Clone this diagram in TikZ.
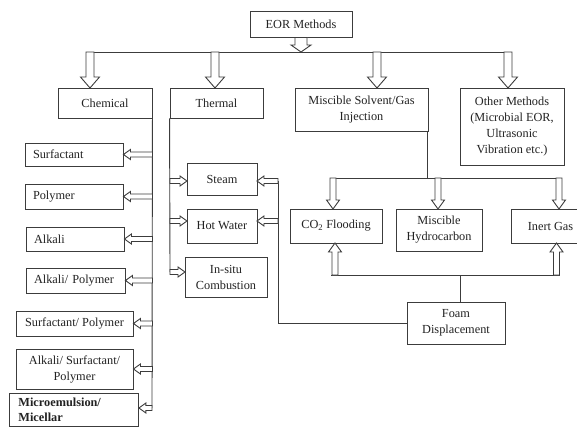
\documentclass[tikz,border=0pt]{standalone}
\usepackage{fontspec}
\setmainfont{Liberation Serif}
\usetikzlibrary{calc}
\definecolor{lc}{HTML}{3C3C3C}
\definecolor{tc}{HTML}{222222}
\tikzset{
  box/.style={draw=lc, line width=0.9pt, fill=white, inner sep=2pt, align=center,
    font=\fontsize{12.3}{16}\selectfont, text=tc},
  leftbox/.style={box, align=left, inner xsep=8pt},
  conn/.style={draw=lc, line width=0.9pt},
  hollowpath/.style={conn, fill=white, line join=miter, to path={
    ($(\tikztotarget)!\hlen!(\tikztostart)$) coordinate (hbase)
    ($(\tikztostart)!\hsw!90:(\tikztotarget)$) -- ($(hbase)!\hsw!90:(\tikztotarget)$)
    -- ($(hbase)!\hhw!90:(\tikztotarget)$) -- (\tikztotarget)
    -- ($(hbase)!\hhw!-90:(\tikztotarget)$) -- ($(hbase)!\hsw!-90:(\tikztotarget)$)
    -- ($(\tikztostart)!\hsw!-90:(\tikztotarget)$) -- cycle}},
  bigarrow/.style={/utils/exec={\def\hsw{4pt}\def\hhw{9.5pt}\def\hlen{11pt}}, hollowpath},
  midarrow/.style={/utils/exec={\def\hsw{3pt}\def\hhw{6.5pt}\def\hlen{9pt}}, hollowpath},
  smallarrow/.style={/utils/exec={\def\hsw{2.5pt}\def\hhw{5pt}\def\hlen{7pt}}, hollowpath},
  toparrow/.style={/utils/exec={\def\hsw{6pt}\def\hhw{10pt}\def\hlen{7pt}}, hollowpath},
}
\begin{document}
\begin{tikzpicture}[x=1pt, y=-1pt]
\clip (0,0) rectangle (577,426);
\fill[white] (0,0) rectangle (577,426);

% main boxes
\node[box, minimum width=102pt, minimum height=26pt] (eor) at (301,24) {EOR Methods};
\node[box, minimum width=94pt, minimum height=30pt] (chem) at (105,103) {Chemical};
\node[box, minimum width=93pt, minimum height=30pt] (therm) at (216.5,103) {Thermal};
\node[box, minimum width=133pt, minimum height=43pt] (misc) at (361.5,109.5) {Miscible Solvent/Gas\\Injection};
\node[box, minimum width=104pt, minimum height=77pt] (other) at (512,126.5) {Other Methods\\(Microbial EOR,\\Ultrasonic\\Vibration etc.)};

% chemical sub-boxes
\node[leftbox, text width=82pt, minimum height=23pt] (surf) at (74,154.5) {Surfactant};
\node[leftbox, text width=82pt, minimum height=25pt] (poly) at (74,196.5) {Polymer};
\node[leftbox, text width=82pt, minimum height=24pt] (alk) at (75,239) {Alkali};
\node[leftbox, text width=83pt, minimum height=25pt] (alkpoly) at (75.5,280.5) {Alkali/ Polymer};
\node[box, minimum width=117pt, minimum height=25pt] (surfpoly) at (74.5,323.5) {Surfactant/ Polymer};
\node[box, minimum width=117pt, minimum height=40pt] (asp) at (74.5,369) {Alkali/ Surfactant/\\Polymer};
\node[leftbox, text width=111pt, inner xsep=9pt, inner ysep=4.5pt, anchor=north west,
  font={\fontsize{12.3}{15}\selectfont\bfseries}] (micro) at (9,393) {Microemulsion/\\Micellar};

% thermal sub-boxes
\node[box, minimum width=70pt, minimum height=32pt] (steam) at (222,179) {Steam};
\node[box, minimum width=70pt, minimum height=34pt] (hw) at (222,226) {Hot Water};
\node[box, minimum width=82pt, minimum height=40pt] (insitu) at (226,277) {In-situ\\Combustion};

% miscible sub-boxes
\node[box, minimum width=92pt, minimum height=34pt] (co2) at (336,226) {CO\textsubscript{2} Flooding};
\node[box, minimum width=86pt, minimum height=42pt] (mh) at (439,230) {Miscible\\Hydrocarbon};
\node[box, minimum width=79pt, minimum height=34pt] (inert) at (550.5,226) {Inert Gas};
\node[box, minimum width=98pt, minimum height=42pt] (foam) at (456,323) {Foam\\Displacement};

% top distribution
\coordinate (tbL) at (86,52);
\coordinate (tbR) at (512,52);
\draw[conn] (tbL) -- (tbR);
\coordinate (a0t) at (301,52);
\draw[toparrow] (eor.south) to (a0t);
\coordinate (a1s) at (90,52);   \coordinate (a1t) at (90,88);
\coordinate (a2s) at (215,52);  \coordinate (a2t) at (215,88);
\coordinate (a3s) at (377,52);  \coordinate (a3t) at (377,88);
\coordinate (a4s) at (508,52);  \coordinate (a4t) at (508,88);
\draw[bigarrow] (a1s) to (a1t);
\draw[bigarrow] (a2s) to (a2t);
\draw[bigarrow] (a3s) to (a3t);
\draw[bigarrow] (a4s) to (a4t);

% chemical branch
\coordinate (chemend) at (152,408);
\draw[conn] (chem.south east) -- (chemend);
\foreach \b in {surf,poly,alk,alkpoly,surfpoly,asp}{
  \coordinate (s-\b) at (chem.south east |- \b.east);
  \draw[smallarrow] (s-\b) to (\b.east);
}
\coordinate (microt) at (micro.east |- chemend);
\draw[smallarrow] (chemend) to (microt);

% thermal branch
\coordinate (thend) at (170,272);
\draw[conn] (therm.south west) -- (thend);
\coordinate (th1s) at (170,181); \coordinate (th1t) at (187,181);
\coordinate (th2s) at (170,221); \coordinate (th2t) at (187,221);
\coordinate (th3t) at (185,272);
\draw[smallarrow] (th1s) to (th1t);
\draw[smallarrow] (th2s) to (th2t);
\draw[smallarrow] (thend) to (th3t);

% foam to steam / hot water
\coordinate (fr1) at (278,181);
\coordinate (fr2) at (278,221);
\coordinate (fcorner) at (278,323);
\coordinate (st1) at (257,181);
\coordinate (st2) at (257,221);
\draw[conn] (fr1) -- (fcorner) -- (foam.west);
\draw[smallarrow] (fr1) to (st1);
\draw[smallarrow] (fr2) to (st2);

% miscible branch
\coordinate (ms) at (427,131);
\coordinate (mb) at (427,178);
\draw[conn] (ms) -- (mb);
\coordinate (mbL) at (331,178);
\coordinate (mbR) at (562,178);
\draw[conn] (mbL) -- (mbR);
\coordinate (m1s) at (333,178); \coordinate (m1t) at (333,209);
\coordinate (m2s) at (438,178); \coordinate (m2t) at (438,209);
\coordinate (m3s) at (559,178); \coordinate (m3t) at (559,209);
\draw[midarrow] (m1s) to (m1t);
\draw[midarrow] (m2s) to (m2t);
\draw[midarrow] (m3s) to (m3t);

% foam up
\coordinate (ft) at (460,302);
\coordinate (fb) at (460,275);
\draw[conn] (ft) -- (fb);
\coordinate (fbL) at (331,275);
\coordinate (fbR) at (560,275);
\draw[conn] (fbL) -- (fbR);
\coordinate (f1s) at (335,275); \coordinate (f1t) at (335,243);
\coordinate (f2s) at (556.5,275); \coordinate (f2t) at (556.5,243);
\draw[midarrow] (f1s) to (f1t);
\draw[midarrow] (f2s) to (f2t);
\end{tikzpicture}
\end{document}
